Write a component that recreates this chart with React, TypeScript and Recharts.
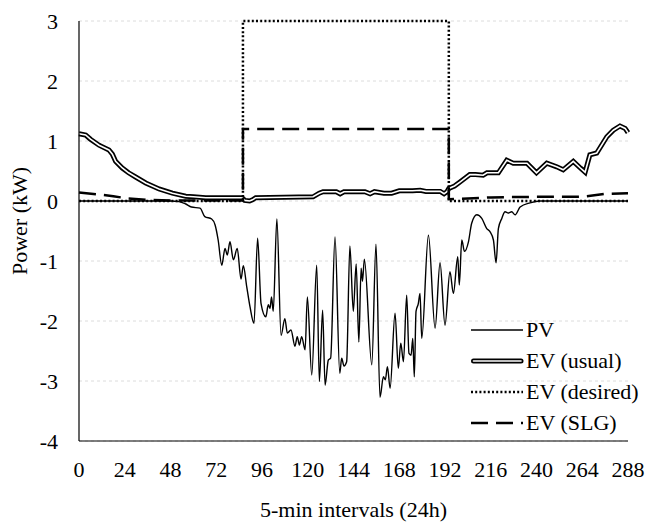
import { CartesianGrid, Legend, Line, LineChart, XAxis, YAxis } from "recharts";

const FONT = '"Liberation Serif", "Times New Roman", serif';

const xTicks = [0, 24, 48, 72, 96, 120, 144, 168, 192, 216, 240, 264, 288];
const yTicks = [-4, -3, -2, -1, 0, 1, 2, 3];

// [interval, kW]
const pvPoints: [number, number][] = [
  [0, 0], [48, 0], [52.5, -0.01], [56, -0.05], [59, -0.1], [63.5, -0.12], [66, -0.26],
  [69.6, -0.3], [71.4, -0.4], [73, -0.65], [74.9, -1.07], [76.6, -0.79], [77.8, -0.9],
  [79.2, -0.68], [81, -0.98], [83, -0.79], [85, -1.3], [86.2, -1.08], [88, -1.43],
  [89.7, -1.76], [91.8, -2.04], [93.7, -0.62], [95.5, -1.71], [98, -1.93], [99.3, -1.73],
  [100.2, -1.79], [101, -1.6], [101.9, -1.84], [103.8, -0.3], [106, -2.24], [108, -1.96],
  [109.3, -2.2], [111.2, -2.15], [113.3, -2.42], [114.5, -2.26], [115.6, -2.4],
  [116.8, -2.26], [118.6, -2.48], [119.8, -1.6], [122.1, -2.9], [124.7, -1.07],
  [126.1, -3.01], [127.8, -1.82], [129.1, -3.07], [130.8, -2.65], [132, -2.62],
  [134.3, -0.6], [136.8, -2.87], [137.8, -2.62], [139, -2.75], [140.4, -2.68],
  [142.1, -0.75], [143.9, -1.84], [145.4, -1.05], [146.8, -2.35], [148, -1.12],
  [148.7, -1.34], [149.7, -0.97], [153.6, -2.73], [155.8, -0.72], [157.9, -3.27],
  [159.7, -2.93], [160.7, -2.98], [161.8, -2.76], [163.2, -3.12], [165.8, -1.87],
  [167.5, -2.79], [168.8, -2.37], [170.2, -2.68], [171.9, -1.57], [173.1, -2.54],
  [174.2, -2.57], [175.1, -2.29], [175.9, -2.93], [176.8, -1.84], [178, -1.71],
  [178.9, -1.54], [179.8, -2.29], [183.3, -0.57], [186.8, -2.12], [189.4, -1.03],
  [192, -2.07], [194.6, -1.18], [196.4, -1.54], [198.7, -0.93], [199.5, -1.4],
  [200.8, -0.65], [202.2, -0.84], [204.3, -0.68], [206, -0.37], [208.7, -0.23],
  [211.3, -0.29], [213.9, -0.46], [215.6, -0.51], [217.4, -0.65], [218.8, -1.03],
  [220, -0.46], [221.8, -0.29], [223.5, -0.18], [225.2, -0.2], [227, -0.18],
  [228.8, -0.23], [231.4, -0.1], [236.6, -0.03], [242, 0], [288, 0],
];

const evUsualPoints: [number, number][] = [
  [0, 1.12], [3.5, 1.1], [6, 1.03], [10.5, 0.93], [15.7, 0.85], [17.5, 0.78], [19.2, 0.66],
  [22.7, 0.55], [26, 0.47], [29.7, 0.4], [35, 0.3], [42, 0.2], [49, 0.13], [56, 0.08],
  [60, 0.07], [66.5, 0.055], [85.5, 0.055], [87, 0.01], [89.5, 0], [91, 0.02],
  [92.7, 0.055], [122.8, 0.07], [126, 0.13], [128, 0.155], [135, 0.155], [137, 0.12],
  [139, 0.155], [150, 0.155], [152.7, 0.12], [155, 0.155], [160, 0.13], [164, 0.13],
  [168, 0.17], [175, 0.17], [179, 0.18], [182, 0.16], [189.5, 0.16], [191.5, 0.12],
  [193, 0.155], [194, 0.21], [197, 0.25], [200, 0.32], [205, 0.44], [208, 0.44],
  [212, 0.43], [214, 0.47], [220, 0.47], [224.4, 0.68], [227.8, 0.63], [235, 0.63],
  [240, 0.47], [245.4, 0.63], [250.6, 0.57], [254, 0.52], [259.3, 0.66], [263, 0.55],
  [265.5, 0.48], [268, 0.77], [271.6, 0.8], [276.9, 1.07], [280.3, 1.18], [283.8, 1.25],
  [286.5, 1.21], [288, 1.14],
];

const evDesiredPoints: [number, number][] = [
  [0, 0], [86, 0], [86, 3], [194, 3], [194, 0], [288, 0],
];

const evSlgPoints: [number, number][] = [
  [0, 0.14], [10, 0.11], [18, 0.08], [26, 0.04], [36, 0.02], [48, 0.01], [86, 0.01],
  [86, 1.2], [194, 1.2], [194, 0.03], [204, 0.04], [216, 0.06], [240, 0.07], [264, 0.07],
  [276, 0.12], [288, 0.13],
];

const toData = (pts: [number, number][]) => pts.map(([x, y]) => ({ x, y }));

const pvData = toData(pvPoints);
const usualData = toData(evUsualPoints);
const desiredData = toData(evDesiredPoints);
const slgData = toData(evSlgPoints);

function LegendSample({ kind }: { kind: string }) {
  return (
    <svg width={54} height={12} style={{ display: "block" }}>
      {kind === "pv" && <line x1={0} y1={6} x2={52} y2={6} stroke="#000" strokeWidth={1.3} />}
      {kind === "usual" && (
        <>
          <line x1={2.5} y1={6} x2={50} y2={6} stroke="#000" strokeWidth={5} strokeLinecap="round" />
          <line x1={2.5} y1={6} x2={50} y2={6} stroke="#fff" strokeWidth={1.6} strokeLinecap="round" />
        </>
      )}
      {kind === "desired" && (
        <line x1={0} y1={6} x2={52} y2={6} stroke="#000" strokeWidth={2.5} strokeDasharray="2 2.2" />
      )}
      {kind === "slg" && (
        <line x1={0} y1={6} x2={52} y2={6} stroke="#000" strokeWidth={2.5} strokeDasharray="17 8" />
      )}
    </svg>
  );
}

const legendRows = [
  { kind: "pv", name: "PV" },
  { kind: "usual", name: "EV (usual)" },
  { kind: "desired", name: "EV (desired)" },
  { kind: "slg", name: "EV (SLG)" },
];

function renderLegend() {
  return (
    <div style={{ fontFamily: FONT, fontSize: 22, color: "#000" }}>
      {legendRows.map((r) => (
        <div key={r.kind} style={{ display: "flex", alignItems: "center", height: 31 }}>
          <LegendSample kind={r.kind} />
          <span style={{ marginLeft: 1, whiteSpace: "nowrap" }}>{r.name}</span>
        </div>
      ))}
    </div>
  );
}

function XTitle() {
  return (
    <text x={353.5} y={516.7} textAnchor="middle" style={{ fontFamily: FONT, fontSize: 22 }} fill="#000">
      5-min intervals (24h)
    </text>
  );
}

function YTitle() {
  return (
    <text
      x={27}
      y={221}
      transform="rotate(-90, 27, 221)"
      textAnchor="middle"
      style={{ fontFamily: FONT, fontSize: 22 }}
      fill="#000"
    >
      Power (kW)
    </text>
  );
}

export default function App() {
  const tickStyle = { fontFamily: FONT, fontSize: 22, fill: "#000", style: { fontFamily: FONT } };
  return (
    <>
      <style>{"html, body { margin: 0; padding: 0; overflow: hidden; background: #fff; }"}</style>
      <div style={{ width: 646, height: 523, background: "#fff", fontFamily: FONT, overflow: "hidden" }}>
        <LineChart width={646} height={523} margin={{ top: 21, right: 18, left: 0, bottom: 0 }} style={{ fontFamily: FONT }}>
          <CartesianGrid vertical={false} stroke="#dcdcdc" strokeDasharray="3 3" />
          <XAxis
            dataKey="x"
            type="number"
            domain={[0, 288]}
            ticks={xTicks}
            interval={0}
            height={82}
            tickLine={false}
            tickMargin={14}
            axisLine={{ stroke: "#000", strokeWidth: 1.2 }}
            tick={tickStyle}
            label={<XTitle />}
          />
          <YAxis
            dataKey="y"
            type="number"
            domain={[-4, 3]}
            ticks={yTicks}
            interval={0}
            width={79}
            tickLine={false}
            tickMargin={15}
            axisLine={{ stroke: "#000", strokeWidth: 1.2 }}
            tick={tickStyle}
            label={<YTitle />}
          />
          <Line data={pvData} dataKey="y" type="monotone" stroke="#000" strokeWidth={1.4} dot={false} activeDot={false} isAnimationActive={false} />
          <Line data={usualData} dataKey="y" type="linear" stroke="#000" strokeWidth={5} dot={false} activeDot={false} isAnimationActive={false} />
          <Line data={usualData} dataKey="y" type="linear" stroke="#fff" strokeWidth={1.6} dot={false} activeDot={false} isAnimationActive={false} />
          <Line data={desiredData} dataKey="y" type="linear" stroke="#000" strokeWidth={2.5} strokeDasharray="2 2.2" dot={false} activeDot={false} isAnimationActive={false} />
          <Line data={slgData} dataKey="y" type="linear" stroke="#000" strokeWidth={2.5} strokeDasharray="17 8" dot={false} activeDot={false} isAnimationActive={false} />
          <Legend
            layout="vertical"
            align="center"
            verticalAlign="middle"
            content={renderLegend}
            wrapperStyle={{ left: 471, top: 314, width: 170 }}
          />
        </LineChart>
      </div>
    </>
  );
}
